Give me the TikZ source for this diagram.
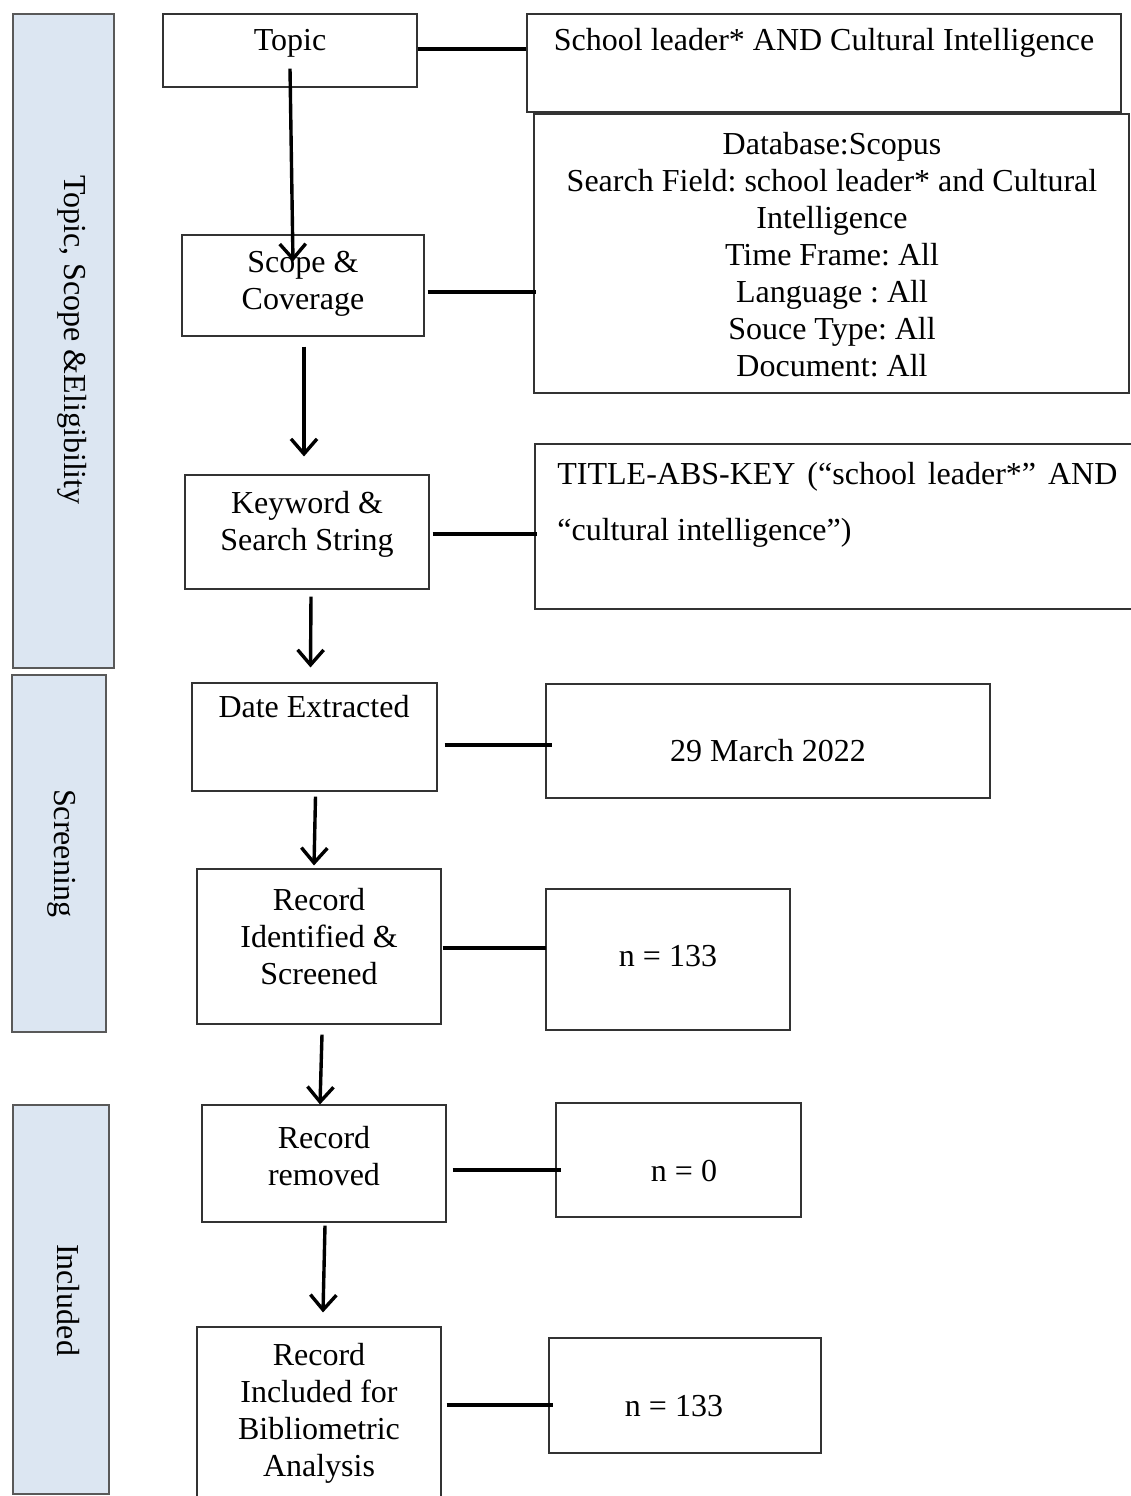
\documentclass[tikz,border=0pt]{standalone}
\usepackage{fontspec}
\setmainfont{Liberation Serif}
\usetikzlibrary{arrows.meta,fit}
\definecolor{barblue}{RGB}{220,230,242}
\frenchspacing
\begin{document}
\begin{tikzpicture}[x=0.5pt,y=-0.5pt,
  box/.style={draw=black!80, line width=0.55pt, inner sep=0pt},
  bar/.style={draw=black!65, line width=0.8pt, fill=barblue, inner sep=0pt},
  txt/.style={font=\fontsize{16}{18.5}\selectfont\frenchspacing, align=center, inner sep=0pt},
  link/.style={line width=2pt},
  arr/.style={line width=1.7pt, -{Straight Barb[length=7.5pt,width=13pt]}}
]
\useasboundingbox (0,0) rectangle (1131,1496);
% side bars
\node[bar, fit={(13,14) (114,668)}] (bar1) {};
\node[bar, fit={(12,675) (106,1032)}] (bar2) {};
\node[bar, fit={(13,1105) (109,1494)}] (bar3) {};
\node[txt, rotate=-90] (bar1T) at (72,340) {Topic, Scope \&Eligibility};
\node[txt, rotate=-90] (bar2T) at (62,853) {Screening};
\node[txt, rotate=-90] (bar3T) at (68,1300) {Included};
% main boxes
\node[box, fit={(163,14) (417,87)}] (topic) {};
\node[box, fit={(182,235) (424,336)}] (scope) {};
\node[box, fit={(185,475) (429,589)}] (keyword) {};
\node[box, fit={(192,683) (437,791)}] (date) {};
\node[box, fit={(197,869) (441,1024)}] (recid) {};
\node[box, fit={(202,1105) (446,1222)}] (removed) {};
\node[box, fit={(197,1327) (441,1510)}] (incl) {};
\node[txt] (topicT) at (290,43) {Topic};
\node[txt] (scopeT) at (303,284) {Scope \&\\Coverage};
\node[txt] (keywordT) at (307,524) {Keyword \&\\Search String};
\node[txt] (dateT) at (314,707) {Date Extracted};
\node[txt] (recidT) at (319,937) {Record\\Identified \&\\Screened};
\node[txt] (removedT) at (324,1156) {Record\\removed};
\node[txt] (inclT) at (319,1413) {Record\\Included for\\Bibliometric\\Analysis};
% right boxes
\node[box, fit={(527,14) (1121,112)}] (school) {};
\node[box, fit={(534,114) (1129,393)}] (db) {};
\node[box, fit={(535,444) (1145,609)}] (tak) {};
\node[box, fit={(546,684) (990,798)}] (march) {};
\node[box, fit={(546,889) (790,1030)}] (n1) {};
\node[box, fit={(556,1103) (801,1217)}] (n0) {};
\node[box, fit={(549,1338) (821,1453)}] (n2) {};
\node[txt] (schoolT) at (824,43) {School leader* AND Cultural Intelligence};
\node[txt] (dbT) at (832,255) {Database:Scopus\\Search Field: school leader* and Cultural\\Intelligence\\Time Frame: All\\Language : All\\Souce Type: All\\Document: All};
\node[anchor=base west, inner sep=0pt] (takT) at (557,484) {\parbox[t]{280pt}{\fontsize{16}{28}\selectfont TITLE-ABS-KEY (“school leader*” AND “cultural intelligence”)}};
\node[txt] (marchT) at (768,751) {29 March 2022};
\node[txt] (n1T) at (668,956) {n = 133};
\node[txt] (n0T) at (684,1171) {n = 0};
\node[txt] (n2T) at (674,1406) {n = 133};
% horizontal connectors
\draw[link] ([shift={(0,-2)}]topic.east) -- ([shift={(0,-2)}]topic.east -| school.west);
\draw[link] ([shift={(3,6)}]scope.east) -- ([shift={(3,6)}]scope.east -| db.west);
\draw[link] ([shift={(3,2)}]keyword.east) -- ([shift={(3,2)}]keyword.east -| tak.west);
\draw[link] ([shift={(7,8)}]date.east) -- ([shift={(7,8)}]date.east -| march.west);
\draw[link] ([shift={(1,1)}]recid.east) -- ([shift={(1,1)}]recid.east -| n1.west);
\draw[link] ([shift={(6,6)}]removed.east) -- ([shift={(6,6)}]removed.east -| n0.west);
\draw[link] ([shift={(5,-14)}]incl.east) -- ([shift={(5,-14)}]incl.east -| n2.west);
% vertical arrows
\draw[arr] ([shift={(0,-19)}]topic.south) -- ([shift={(-10,27)}]scope.north);
\draw[arr] ([shift={(1,10)}]scope.south) -- ([shift={(-3,-18)}]keyword.north);
\draw[arr] ([shift={(4,7)}]keyword.south) -- ([shift={(-4,-15)}]date.north);
\draw[arr] ([shift={(1,5)}]date.south) -- ([shift={(-5,-3)}]recid.north);
\draw[arr] ([shift={(3,10)}]recid.south) -- ([shift={(-4,0)}]removed.north);
\draw[arr] ([shift={(1,3)}]removed.south) -- ([shift={(4,-14)}]incl.north);
\end{tikzpicture}
\end{document}
